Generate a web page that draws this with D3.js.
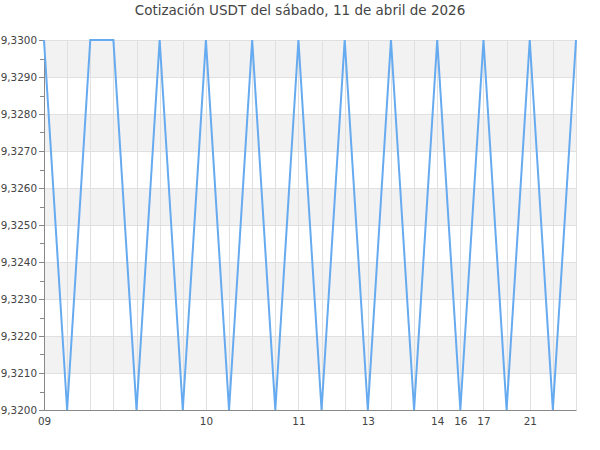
<!DOCTYPE html>
<html>
<head>
<meta charset="utf-8">
<script src="https://cdn.jsdelivr.net/npm/d3@7"></script>
<style>
  body { margin: 0; background: #fff; }
  text { font-family: "DejaVu Sans", sans-serif; }
</style>
</head>
<body>
<svg width="600" height="450"></svg>
<script>

// rate at each sample, left to right
var rates = [9.3300, 9.3200, 9.3300, 9.3300, 9.3200, 9.3300, 9.3200, 9.3300,
             9.3200, 9.3300, 9.3200, 9.3300, 9.3200, 9.3300, 9.3200, 9.3300,
             9.3200, 9.3300, 9.3200, 9.3300, 9.3200, 9.3300, 9.3200, 9.3300];

// sample index -> label shown under axis
var tickIndex = [0, 7, 11, 14, 17, 18, 19, 21];
var tickLabels = ['09', '10', '11', '13', '14', '16', '17', '21'];

var yTicks = [9.3200, 9.3210, 9.3220, 9.3230, 9.3240, 9.3250, 9.3260, 9.3270, 9.3280, 9.3290, 9.3300];

var svg = d3.select('svg');
var plotLeft = 44, plotRight = 576, plotTop = 40, plotBottom = 410;

var x = d3.scaleLinear().domain([0, rates.length - 1]).range([plotLeft, plotRight]);
var y = d3.scaleLinear().domain([9.3200, 9.3300]).range([plotBottom, plotTop]);

var fmt = d3.formatLocale({ decimal: ',', thousands: '.', grouping: [3], currency: ['', ''] }).format('.4f');

// alternating bands
var bands = d3.pairs(yTicks).filter(function(d, i){ return i % 2 == 1; });
svg.selectAll('rect.band')
  .data(bands)
  .enter()
  .append('rect')
  .attr('class', 'band')
  .attr('x', plotLeft)
  .attr('width', plotRight - plotLeft)
  .attr('y', function(d){ return y(d[1]); })
  .attr('height', function(d){ return y(d[0]) - y(d[1]); })
  .attr('fill', '#f2f2f2');

// grid
svg.selectAll('line.hgrid')
  .data(yTicks)
  .enter()
  .append('line')
  .attr('class', 'hgrid')
  .attr('x1', plotLeft).attr('x2', plotRight)
  .attr('y1', function(d){ return Math.round(y(d)) + 0.5; })
  .attr('y2', function(d){ return Math.round(y(d)) + 0.5; })
  .attr('stroke', '#e0e0e0');

svg.selectAll('line.vgrid')
  .data(d3.range(1, rates.length))
  .enter()
  .append('line')
  .attr('class', 'vgrid')
  .attr('x1', function(d){ return Math.round(x(d)) + 0.5; })
  .attr('x2', function(d){ return Math.round(x(d)) + 0.5; })
  .attr('y1', plotTop).attr('y2', plotBottom)
  .attr('stroke', '#e0e0e0');

// y axis
var yAxis = d3.axisLeft(y)
  .tickValues(yTicks)
  .tickSize(5)
  .tickPadding(2)
  .tickFormat(fmt);

var gy = svg.append('g').attr('transform', 'translate(' + plotLeft + ',0)').call(yAxis);
gy.select('.domain').attr('stroke', '#888');
gy.selectAll('.tick line').attr('stroke', '#888');
gy.selectAll('text').attr('font-size', 10.4).attr('fill', '#444').attr('font-family', 'DejaVu Sans');

// minor ticks
svg.selectAll('line.minor')
  .data(d3.pairs(yTicks).map(function(d){ return (d[0] + d[1]) / 2; }))
  .enter()
  .append('line')
  .attr('class', 'minor')
  .attr('x1', plotLeft - 4).attr('x2', plotLeft)
  .attr('y1', function(d){ return Math.round(y(d)) + 0.5; })
  .attr('y2', function(d){ return Math.round(y(d)) + 0.5; })
  .attr('stroke', '#888');

// x axis
var xAxis = d3.axisBottom(x)
  .tickValues(tickIndex)
  .tickSize(0)
  .tickPadding(8)
  .tickFormat(function(d, i){ return tickLabels[i]; });

var gx = svg.append('g').attr('transform', 'translate(0,' + plotBottom + ')').call(xAxis);
gx.select('.domain').attr('stroke', '#888');
gx.selectAll('text').attr('font-size', 10.4).attr('fill', '#444').attr('font-family', 'DejaVu Sans');

// line
var line = d3.line()
  .x(function(d, i){ return x(i); })
  .y(function(d){ return y(d); });

svg.append('path')
  .datum(rates)
  .attr('d', line)
  .attr('fill', 'none')
  .attr('stroke', '#66aaf0')
  .attr('stroke-width', 2);

// title
svg.append('text')
  .attr('x', 300)
  .attr('y', 15)
  .attr('text-anchor', 'middle')
  .attr('font-size', 13.5)
  .attr('fill', '#444')
  .text('Cotización USDT del sábado, 11 de abril de 2026');

</script>
</body>
</html>
